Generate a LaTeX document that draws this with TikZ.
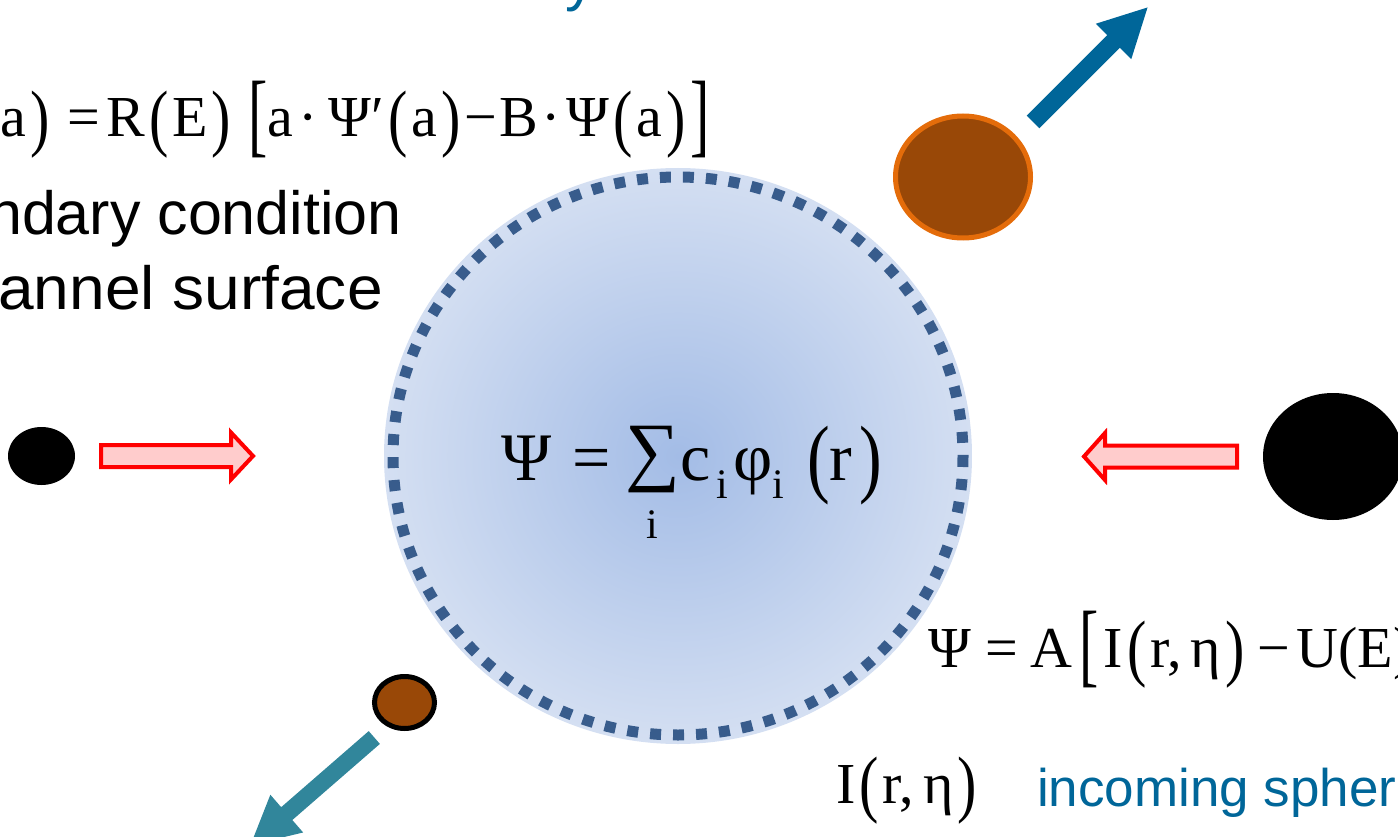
\documentclass[tikz,border=0pt]{standalone}
\usepackage{fontspec}
\usepackage{graphicx}
\setmainfont{Liberation Serif}
\newfontfamily\serf{Liberation Serif}
\newfontfamily\sansf{Liberation Sans}
\definecolor{arrowblue}{RGB}{0,102,153}
\definecolor{tealarrow}{RGB}{49,134,155}
\definecolor{brownfill}{RGB}{153,72,7}
\definecolor{orangeline}{RGB}{228,108,10}
\definecolor{pinkfill}{RGB}{255,204,204}
\definecolor{dotblue}{RGB}{56,92,140}
\definecolor{ballin}{RGB}{163,188,230}
\definecolor{ballout}{RGB}{212,223,242}
\newcommand\tpar[1]{\hspace{0.07em}\raisebox{-0.1em}{\scalebox{1}[1.28]{#1}}\hspace{0.07em}}
\newcommand\tbrk[1]{\raisebox{-0.14em}{\scalebox{1}[1.6]{#1}}}
\newcommand\blkarrow[8]{%
  \path[#8, shift={(#1,#2)}, rotate=#3]
    (0,-#5/2) -- (#4-#7,-#5/2) -- (#4-#7,-#6/2) -- (#4,0) -- (#4-#7,#6/2) -- (#4-#7,#5/2) -- (0,#5/2) -- cycle;}
\begin{document}
\begin{tikzpicture}[x=1pt,y=-1pt,
  eqbig/.style={inner sep=0pt, anchor=base west, font=\serf\fontsize{68}{72}\selectfont},
  eqsub/.style={inner sep=0pt, anchor=base west, font=\serf\fontsize{42}{46}\selectfont},
  eqmid/.style={inner sep=0pt, anchor=base west, font=\serf\fontsize{58}{62}\selectfont},
  sanslbl/.style={inner sep=0pt, font=\sansf\fontsize{61}{70}\selectfont},
  bluelbl/.style={inner sep=0pt, text=arrowblue, font=\sansf\fontsize{53}{60}\selectfont},
  redarrow/.style={draw=red, fill=pinkfill, line width=4pt, line join=miter},
  bluearrow/.style={fill=arrowblue},
  tealarr/.style={fill=tealarrow},
  blackball/.style={fill=black},
  brownbig/.style={fill=brownfill, draw=orangeline, line width=5pt},
  brownsmall/.style={fill=brownfill, draw=black, line width=5pt},
  dotring/.style={draw=dotblue, line width=11pt, dash pattern=on 11pt off 12pt}
]
\useasboundingbox (0,0) rectangle (1398,837);
\clip (0,0) rectangle (1398,837);

% central nucleus
\shade[inner color=ballin, outer color=ballout] (678,456) ellipse [x radius=294, y radius=288];
\draw[dotring] (678,456) ellipse [x radius=285, y radius=279];

% central formula
\node[eqbig] (psiC) at (501,480) {Ψ};
\node[eqbig] (eqC) at (572,480) {=};
\node[eqbig] (sumC) at (625,480) {\raisebox{0.05em}{\scalebox{1.13}{∑}}};
\node[eqsub, anchor=base] (sumi) at (652,538) {i};
\node[eqbig] (cC) at (680,480) {c};
\node[eqsub] (ciC) at (716,498) {i};
\node[eqbig] (phiC) at (733,480) {φ};
\node[eqsub] (piC) at (772,498) {i};
\node[eqbig] (lpC) at (807,480) {\raisebox{-0.1em}{\scalebox{1}[1.28]{(}}};
\node[eqbig] (rC) at (829,480) {r};
\node[eqbig] (rpC) at (859,480) {\raisebox{-0.1em}{\scalebox{1}[1.28]{)}}};

% top-left formula and label
\node[eqmid] (topeq) at (0,137) {a\tpar{)}\hspace{0.25em}=\hspace{0.1em}R\tpar{(}E\tpar{)}\hspace{0.22em}\tbrk{[}a\hspace{0.1em}·\hspace{0.18em}Ψ′\tpar{(}a\tpar{)}−\hspace{0.04em}B\hspace{0.05em}·\hspace{0.1em}Ψ\tpar{(}a\tpar{)}\hspace{0.01em}\tbrk{]}};
\node[sanslbl, anchor=base east] (bc1) at (402,235) {ndary condition};
\node[sanslbl, anchor=base west] (bc2) at (-2,309) {\scalebox{1.05}[1]{annel surface}};
\node[bluelbl, anchor=base, font=\sansf\fontsize{60}{60}\selectfont] (ytop) at (580,0) {y};

% right formula
\node[eqmid] (rightEq) at (928,667) {Ψ\hspace{0.25em}=\hspace{0.22em}A\hspace{0.12em}\tbrk{[}\hspace{0.08em}I\tpar{(}r,\hspace{0.15em}η\tpar{)}\hspace{0.15em}−\hspace{0.12em}U(E)};
\node[eqmid] (inEq) at (836,803) {I\tpar{(}r,\hspace{0.15em}η\tpar{)}};
\node[bluelbl, anchor=base west] (incoming) at (1037,806) {incoming spher};

% particles
\path[blackball] (41.5,456) ellipse [x radius=33.5, y radius=29];
\path[blackball] (1333,456.5) ellipse [x radius=70, y radius=63.5];
\path[brownbig] (963,177) ellipse [x radius=67.5, y radius=61];
\path[brownsmall] (404.5,702.5) ellipse [x radius=30, y radius=26];

% arrows
\blkarrow{101}{456}{0}{152}{22}{47}{22}{redarrow}
\blkarrow{1237}{456.5}{180}{153}{22}{47}{21}{redarrow}
\blkarrow{1033}{122}{45}{162}{18}{50}{48}{bluearrow}
\blkarrow{374.3}{737.5}{221}{164}{17}{50}{48}{tealarr}
\end{tikzpicture}
\end{document}
